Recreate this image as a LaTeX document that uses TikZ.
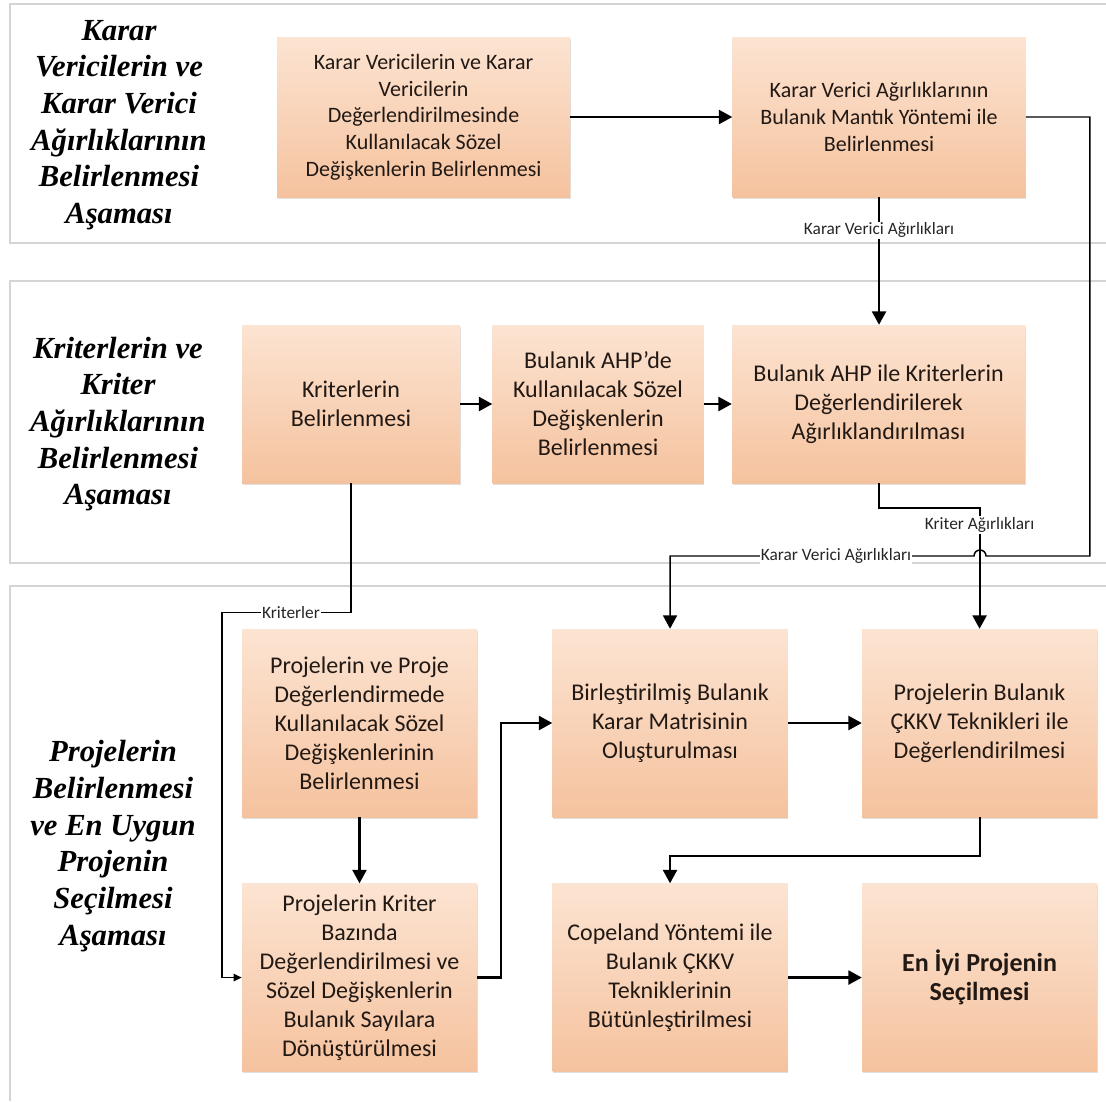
\documentclass[tikz,border=0pt]{standalone}
\usepackage{fontspec}
\setmainfont{Carlito}
\newfontfamily\lanefont{Liberation Serif}
\usetikzlibrary{arrows.meta, positioning, shadows}
\definecolor{boxtop}{RGB}{252, 228, 210}
\definecolor{boxbot}{RGB}{245, 194, 158}
\definecolor{boxtext}{RGB}{34, 25, 20}
\definecolor{laneline}{RGB}{212, 212, 212}

\begin{document}
\begin{tikzpicture}[
    x=0.75pt, y=-0.75pt,
    lane/.style={draw=laneline, line width=0.9pt},
    lanetitle/.style={font=\lanefont\bfseries\itshape\fontsize{23}{27.5}\selectfont, align=center, text=black},
    box/.style={rectangle, top color=boxtop, bottom color=boxbot, drop shadow={shadow xshift=0.6pt, shadow yshift=-1.2pt, fill=black!25, opacity=0.5}, text=boxtext, align=center, inner sep=3pt, minimum width=176.25pt, minimum height=141pt, font=\fontsize{18}{21.75}\selectfont},
    topbox/.style={box, minimum width=219.75pt, minimum height=120pt, font=\fontsize{16.5}{20}\selectfont},
    midbox/.style={box, minimum height=118.5pt},
    lbl/.style={fill=white, inner sep=1pt, text=black!85, font=\fontsize{13}{14}\selectfont},
    arr/.style={-{Triangle[length=10pt, width=10.5pt]}, line width=1.6pt},
    thinarr/.style={-{Triangle[length=6pt, width=5.5pt]}, line width=1.1pt}
]
    \useasboundingbox (0,0) rectangle (1106,1101);

    % lanes
    \draw[lane] (1106,4) -- (10,4) -- (10,243) -- (1106,243);
    \draw[lane] (1106,281) -- (10,281) -- (10,563) -- (1106,563);
    \draw[lane] (1106,586) -- (10,586) -- (10,1101);

    \node[lanetitle] (lane1) at (119,125) {Karar\\Vericilerin ve\\Karar Verici\\Ağırlıklarının\\Belirlenmesi\\Aşaması};
    \node[lanetitle] (lane2) at (118,424) {Kriterlerin ve\\Kriter\\Ağırlıklarının\\Belirlenmesi\\Aşaması};
    \node[lanetitle] (lane3) at (113,846) {Projelerin\\Belirlenmesi\\ve En Uygun\\Projenin\\Seçilmesi\\Aşaması};

    % karar vericiler
    \node[topbox] (kv) at (423.5,117) {Karar Vericilerin ve Karar\\Vericilerin\\Değerlendirilmesinde\\Kullanılacak Sözel\\Değişkenlerin Belirlenmesi};
    \node[topbox, right=121.5pt of kv] (kva) {Karar Verici Ağırlıklarının\\Bulanık Mantık Yöntemi ile\\Belirlenmesi};

    % kriterler
    \node[midbox, minimum width=163.5pt] (krit) at (351,404) {Kriterlerin\\Belirlenmesi};
    \node[midbox, minimum width=158.25pt, right=24pt of krit] (ahpsoz) {Bulanık AHP’de\\Kullanılacak Sözel\\Değişkenlerin\\Belirlenmesi};
    \node[midbox, minimum width=219.75pt, right=21pt of ahpsoz] (ahp) {Bulanık AHP ile Kriterlerin\\Değerlendirilerek\\Ağırlıklandırılması};

    % projeler
    \node[box] (pdsd) at (359.5,723) {Projelerin ve Proje\\Değerlendirmede\\Kullanılacak Sözel\\Değişkenlerinin\\Belirlenmesi};
    \node[box, below=49.5pt of pdsd] (pkb) {Projelerin Kriter\\Bazında\\Değerlendirilmesi ve\\Sözel Değişkenlerin\\Bulanık Sayılara\\Dönüştürülmesi};
    \node[box, right=56.25pt of pdsd] (bbkm) {Birleştirilmiş Bulanık\\Karar Matrisinin\\Oluşturulması};
    \node[box, right=55.5pt of bbkm] (ckkv) {Projelerin Bulanık\\ÇKKV Teknikleri ile\\Değerlendirilmesi};
    \node[box, below=49.5pt of bbkm] (cope) {Copeland Yöntemi ile\\Bulanık ÇKKV\\Tekniklerinin\\Bütünleştirilmesi};
    \node[box, below=49.5pt of ckkv, font=\bfseries\fontsize{19.5}{21.5}\selectfont] (eniyi) {En İyi Projenin\\Seçilmesi};

    \draw[arr] (kv) -- (kva);
    \draw[arr] (kva.south) -- node[lbl, pos=0.26] (kvlbl) {Karar Verici Ağırlıkları} (kva.south |- ahp.north);
    \draw[arr] (krit) -- (ahpsoz);
    \draw[arr] (ahpsoz) -- (ahp);

    \draw[arr] (ahp.south) -- ++(0,25) -| node[lbl, pos=0.57] (krlbl) {Kriter Ağırlıkları} (ckkv.north);
    \draw[arr, line width=1.1pt] (kva.east) -- ++(64,0) coordinate (kvturn) -- (kvturn |- 0,556) -- (986,556)
        arc[start angle=0, end angle=-180, radius=6] -- node[lbl, pos=0.454] (kvlbl2) {Karar Verici Ağırlıkları} (bbkm.north |- 0,556) -- (bbkm.north);

    \draw[thinarr] (krit.south) -- ++(0,129) -- node[lbl, pos=0.465] (kritlbl) {Kriterler} ++(-129,0) |- (pkb.west);

    \draw[arr] (pdsd) -- (pkb);
    \draw[arr] (pkb.east) -- ++(24,0) |- (bbkm.west);
    \draw[arr] (bbkm) -- (ckkv);
    \draw[arr] (ckkv.south) -- ++(0,39) -| (cope.north);
    \draw[arr] (cope) -- (eniyi);
\end{tikzpicture}
\end{document}
